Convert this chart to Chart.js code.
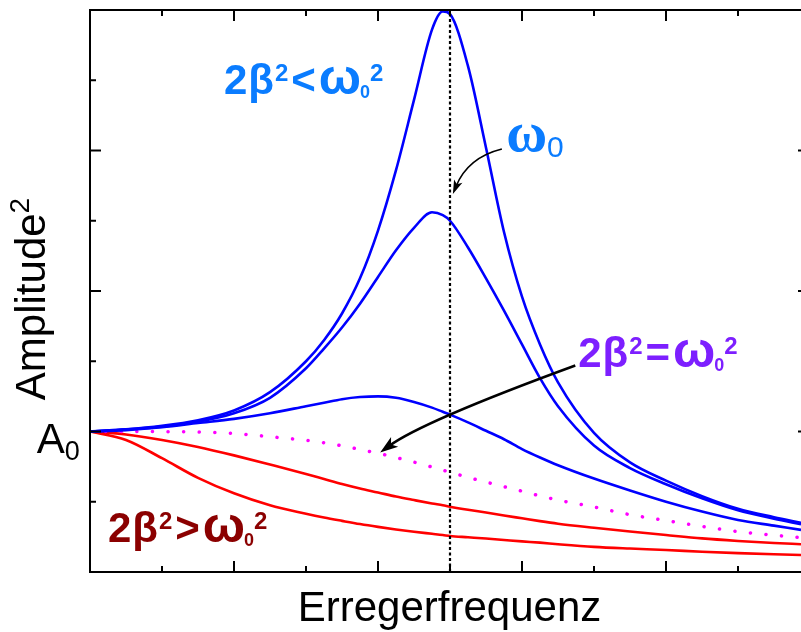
<!DOCTYPE html>
<html>
<head>
<meta charset="utf-8">
<script src="https://cdn.jsdelivr.net/npm/chart.js@4.4.0/dist/chart.umd.min.js"></script>
<style>
  html, body { margin: 0; padding: 0; background: #fff; }
  #wrap { width: 801px; height: 632px; }
</style>
</head>
<body>
<div id="wrap"><canvas id="myChart"></canvas></div>
<script>
// excitation frequency (omega0 = 5) and amplitude^2 (A0^2 = 1)
const freq = [0, 0.5, 1, 1.5, 2, 2.5, 3, 3.25, 3.5, 3.75, 4, 4.25, 4.5, 4.75, 4.9, 5, 5.25, 5.5, 5.75, 6, 6.25, 6.5, 7, 7.5, 8, 8.5, 9, 9.5, 9.875];
const blueSharp = [1.00, 1.015, 1.04, 1.08, 1.15, 1.28, 1.50, 1.65, 1.84, 2.09, 2.43, 2.86, 3.36, 3.86, 3.99, 3.97, 3.60, 3.02, 2.42, 1.96, 1.62, 1.35, 0.99, 0.78, 0.65, 0.54, 0.45, 0.39, 0.35];
const blueMid = [1.00, 1.015, 1.035, 1.07, 1.13, 1.24, 1.45, 1.59, 1.74, 1.91, 2.10, 2.29, 2.45, 2.56, 2.54, 2.50, 2.31, 2.09, 1.86, 1.62, 1.38, 1.18, 0.90, 0.74, 0.625, 0.525, 0.44, 0.38, 0.34];
const blueBroad = [1.00, 1.01, 1.03, 1.06, 1.09, 1.13, 1.18, 1.205, 1.23, 1.245, 1.25, 1.24, 1.21, 1.17, 1.14, 1.12, 1.065, 1.005, 0.945, 0.875, 0.815, 0.76, 0.665, 0.58, 0.50, 0.43, 0.37, 0.33, 0.30];
const critical = [1.00, 1.00, 0.999, 0.996, 0.986, 0.963, 0.937, 0.92, 0.898, 0.872, 0.845, 0.815, 0.782, 0.747, 0.725, 0.71, 0.674, 0.64, 0.607, 0.575, 0.542, 0.512, 0.463, 0.408, 0.366, 0.325, 0.288, 0.262, 0.245];
const redWeak = [1.00, 0.979, 0.94, 0.89, 0.83, 0.765, 0.698, 0.662, 0.626, 0.594, 0.566, 0.537, 0.512, 0.488, 0.475, 0.465, 0.443, 0.423, 0.402, 0.382, 0.362, 0.344, 0.315, 0.288, 0.263, 0.239, 0.221, 0.206, 0.198];
const redStrong = [1.00, 0.94, 0.81, 0.67, 0.56, 0.475, 0.415, 0.388, 0.364, 0.341, 0.321, 0.303, 0.287, 0.272, 0.263, 0.256, 0.247, 0.238, 0.228, 0.218, 0.209, 0.198, 0.179, 0.167, 0.157, 0.144, 0.134, 0.126, 0.121];
const omega0 = 5;
const xTicks = [1, 2, 3, 4, 5, 6, 7, 8, 9];
const yTicks = [0.5, 1, 1.5, 2, 2.5, 3, 3.5];

const SANS = '"Liberation Sans", Arial, sans-serif';

function pts(ys) {
  return freq.map((f, i) => ({ x: f, y: ys[i] }));
}

function line(ctx, x1, y1, x2, y2) {
  ctx.beginPath();
  ctx.moveTo(x1, y1);
  ctx.lineTo(x2, y2);
  ctx.stroke();
}

// draws text pieces one after another: [text, font, dy, extra gap]
function rich(ctx, x, y, parts, color) {
  ctx.fillStyle = color;
  ctx.textBaseline = 'alphabetic';
  ctx.textAlign = 'left';
  parts.forEach(p => {
    ctx.font = p[1];
    ctx.fillText(p[0], x, y + p[2]);
    x += ctx.measureText(p[0]).width + (p[3] || 0);
  });
}

function curvedArrow(ctx, p0, c, p1, width, headLen, headW) {
  ctx.lineWidth = width;
  ctx.strokeStyle = '#000';
  ctx.fillStyle = '#000';
  const ang = Math.atan2(p1.y - c.y, p1.x - c.x);
  ctx.beginPath();
  ctx.moveTo(p0.x, p0.y);
  ctx.quadraticCurveTo(c.x, c.y, p1.x - Math.cos(ang) * headLen * 0.6, p1.y - Math.sin(ang) * headLen * 0.6);
  ctx.stroke();
  ctx.beginPath();
  ctx.moveTo(p1.x, p1.y);
  ctx.lineTo(p1.x - Math.cos(ang) * headLen - Math.sin(ang) * headW / 2, p1.y - Math.sin(ang) * headLen + Math.cos(ang) * headW / 2);
  ctx.lineTo(p1.x - Math.cos(ang) * headLen * 0.75, p1.y - Math.sin(ang) * headLen * 0.75);
  ctx.lineTo(p1.x - Math.cos(ang) * headLen + Math.sin(ang) * headW / 2, p1.y - Math.sin(ang) * headLen - Math.cos(ang) * headW / 2);
  ctx.closePath();
  ctx.fill();
}

function condition(sign) {
  const B = s => 'bold ' + s + 'px ' + SANS;
  return [['2', B(42), 0, 1], ['β', B(42), 0, 1], ['2', B(24), -13, 3], [sign, B(42), 0, 3],
          ['ω', B(50), 0, -1], ['0', B(18), 4, 0], ['2', B(24), -13]];
}

const frame = {
  id: 'frame',
  afterDatasetsDraw(chart) {
    const ctx = chart.ctx;
    const xs = chart.scales.x, ys = chart.scales.y;
    const a = chart.chartArea;
    const P = (x, y) => ({ x: xs.getPixelForValue(x), y: ys.getPixelForValue(y) });
    ctx.save();
    ctx.strokeStyle = '#000';
    ctx.lineWidth = 2;
    ctx.beginPath();
    ctx.moveTo(a.right + 10, a.top);
    ctx.lineTo(a.left, a.top);
    ctx.lineTo(a.left, a.bottom);
    ctx.lineTo(a.right + 10, a.bottom);
    ctx.stroke();
    xTicks.forEach(v => {
      const len = v % 2 === 0 ? 11 : 6;
      const px = xs.getPixelForValue(v);
      line(ctx, px, a.bottom, px, a.bottom - len);
      line(ctx, px, a.top, px, a.top + len);
    });
    yTicks.forEach(v => {
      const len = v % 1 === 0 ? 11 : 6;
      const py = ys.getPixelForValue(v);
      line(ctx, a.left, py, a.left + len, py);
      if (v % 1 === 0) line(ctx, a.right - 3, py, a.right, py);
    });

    // arrows
    curvedArrow(ctx, P(5.72, 3.01), P(5.25, 2.95), P(5.04, 2.69), 1.6, 14, 9);
    curvedArrow(ctx, P(6.74, 1.47), P(4.61, 1.07), P(4.03, 0.85), 2.5, 18, 12);

    // labels
    let p = P(1.86, 3.40);
    rich(ctx, p.x, p.y, condition('<'), '#0a7cff');
    p = P(5.78, 3.00);
    rich(ctx, p.x, p.y, [['ω', 'bold 56px "Liberation Serif", serif', 0], ['0', '30px ' + SANS, 6]], '#0a7cff');
    p = P(6.78, 1.46);
    rich(ctx, p.x, p.y, condition('='), '#7d1fff');
    p = P(0.25, 0.21);
    rich(ctx, p.x, p.y, condition('>'), '#8b0000');
    p = P(-0.74, 0.85);
    rich(ctx, p.x, p.y, [['A', '42px ' + SANS, 0], ['0', '27px ' + SANS, 7]], '#000');

    // axis titles
    ctx.fillStyle = '#000';
    ctx.font = '42px ' + SANS;
    ctx.textAlign = 'center';
    ctx.fillText('Erregerfrequenz', (a.left + a.right) / 2 + 4, a.bottom + 49);
    ctx.save();
    ctx.translate(45, (a.top + a.bottom) / 2 + 8);
    ctx.rotate(-Math.PI / 2);
    ctx.font = '42px ' + SANS;
    const w1 = ctx.measureText('Amplitude').width;
    ctx.font = '28px ' + SANS;
    const w2 = ctx.measureText('2').width;
    rich(ctx, -(w1 + w2) / 2, 0, [['Amplitude', '42px ' + SANS, 0], ['2', '28px ' + SANS, -16]], '#000');
    ctx.restore();
    ctx.restore();
  }
};

const common = { pointRadius: 0, fill: false, cubicInterpolationMode: 'monotone' };

new Chart(document.getElementById('myChart'), {
  type: 'line',
  data: {
    datasets: [
      { data: [{ x: omega0, y: 0 }, { x: omega0, y: 4 }], borderColor: '#000', borderWidth: 2.2, borderDash: [3, 2.5], pointRadius: 0 },
      Object.assign({ data: pts(blueSharp), borderColor: '#0000ff', borderWidth: 2.6 }, common),
      Object.assign({ data: pts(blueMid), borderColor: '#0000ff', borderWidth: 2.6 }, common),
      Object.assign({ data: pts(blueBroad), borderColor: '#0000ff', borderWidth: 2.6 }, common),
      Object.assign({ data: pts(critical), borderColor: '#ff00ff', borderWidth: 3.5, borderDash: [0.1, 15.5], borderCapStyle: 'round' }, common),
      Object.assign({ data: pts(redWeak), borderColor: '#ff0000', borderWidth: 2.6 }, common),
      Object.assign({ data: pts(redStrong), borderColor: '#ff0000', borderWidth: 2.6 }, common)
    ]
  },
  options: {
    responsive: true,
    maintainAspectRatio: false,
    animation: false,
    layout: { padding: { left: 90, right: 0, top: 10, bottom: 60 } },
    plugins: { legend: { display: false }, tooltip: { enabled: false } },
    scales: {
      x: { type: 'linear', min: 0, max: 9.875, display: false },
      y: { type: 'linear', min: 0, max: 4, display: false }
    }
  },
  plugins: [frame]
});
</script>
</body>
</html>
